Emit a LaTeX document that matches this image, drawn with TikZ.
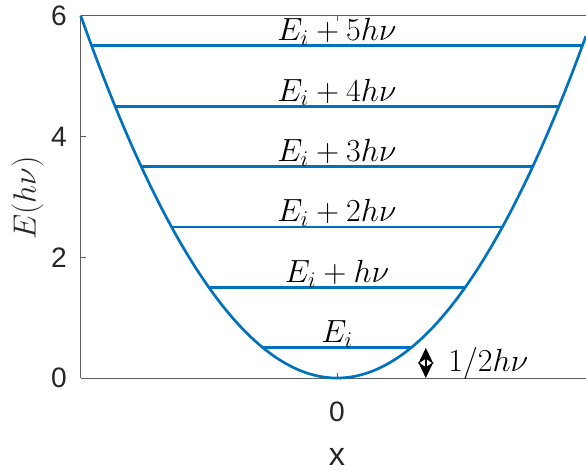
\RequirePackage{fix-cm}
\documentclass[tikz,border=0pt]{standalone}
\usepackage{fontspec}
\setsansfont{Liberation Sans}
\usepackage{tikz}
\usetikzlibrary{arrows.meta, positioning}
\definecolor{wellblue}{RGB}{0,114,189}
\definecolor{axisgray}{RGB}{38,38,38}
\tikzset{
    axisline/.style={draw=axisgray!75, line width=0.7pt},
    level/.style={draw=wellblue, line width=1.9pt},
    ticklabel/.style={text=axisgray, font=\sffamily\fontsize{20}{24}\selectfont},
    levellabel/.style={anchor=south, inner sep=0pt}
}

\begin{document}
\begin{tikzpicture}[x=1.51cm, y=1.51cm, every node/.style={font=\fontsize{22.8}{27}\selectfont}]
        \useasboundingbox (-5.579,-1.540) rectangle (4.122,6.258);
        \draw[axisline] (-4.243,6) -- (4.122,6);
        \draw[axisline] (-4.243,0) -- (4.122,0);
        \draw[axisline] (-4.243,0) -- (-4.243,6);
        \foreach \e in {0,2,4,6} \draw[axisline] (-4.243,\e) -- (-4.16,\e);
        \draw[axisline] (0,0) -- (0,0.083);
        \draw[axisline] (0,6) -- (0,5.917);

        \node (yzero) [ticklabel, anchor=east] at (-4.39,0) {0};
        \node (ytwo) [ticklabel, anchor=east] at (-4.39,2) {2};
        \node (yfour) [ticklabel, anchor=east] at (-4.39,4) {4};
        \node (ysix) [ticklabel, anchor=east] at (-4.39,6) {6};
        \node (xzero) [ticklabel] at (0,-0.56) {0};
        \node (xlabel) [text=axisgray, font=\sffamily\fontsize{23}{27}\selectfont] at (0,-1.31) {x};
        \node (ylabel) [rotate=90, text=axisgray] at (-5.12,2.98) {$E(h\nu)$};

        \draw[level] plot[domain=-4.243:4.122, samples=120] (\x, {\x*\x/3});
        \draw[level] (-1.225,0.5) -- (1.225,0.5);
        \draw[level] (-2.121,1.5) -- (2.121,1.5);
        \draw[level] (-2.739,2.5) -- (2.739,2.5);
        \draw[level] (-3.240,3.5) -- (3.240,3.5);
        \draw[level] (-3.674,4.5) -- (3.674,4.5);
        \draw[level] (-4.062,5.5) -- (4.062,5.5);

        \node (ground) [levellabel] at (0,0.5) {$E_i$};
        \node (first) [levellabel] at (0,1.5) {$E_i+h\nu$};
        \node (second) [levellabel] at (0,2.5) {$E_i+2h\nu$};
        \node (third) [levellabel] at (0,3.5) {$E_i+3h\nu$};
        \node (fourth) [levellabel] at (0,4.5) {$E_i+4h\nu$};
        \node (fifth) [levellabel] at (0,5.5) {$E_i+5h\nu$};

        \coordinate (zpbottom) at (1.47,0);
        \coordinate (zptop) at (1.47,0.5);
        \draw[{Stealth[length=0.4cm, width=0.38cm]}-{Stealth[length=0.4cm, width=0.38cm]}, line width=1pt] (zpbottom) -- (zptop);
        \node (zplabel) [anchor=base west, inner sep=0pt] at (1.84,0.1) {$1/2h\nu$};
    \end{tikzpicture}
\end{document}
